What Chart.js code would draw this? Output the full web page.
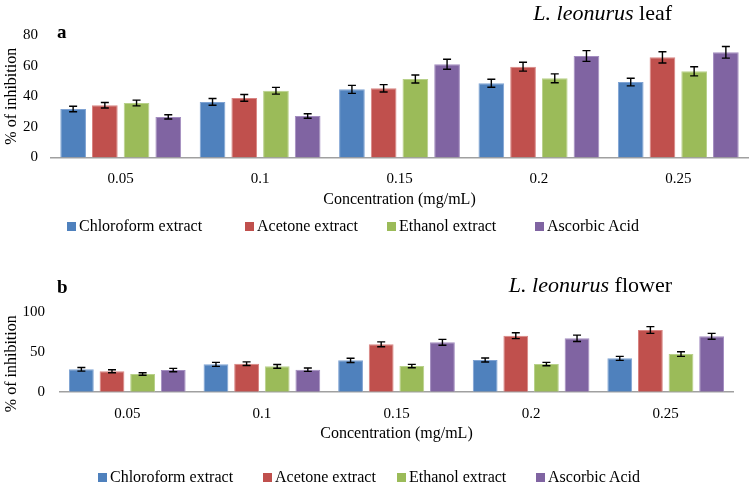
<!DOCTYPE html>
<html>
<head>
<meta charset="utf-8">
<script src="https://cdn.jsdelivr.net/npm/chart.js@4.4.1/dist/chart.umd.min.js"></script>
<style>
  html, body { margin: 0; padding: 0; background: #fff; }
  #wrap { position: relative; width: 749px; height: 487px; overflow: hidden;
          font-family: 'Liberation Serif', 'Times New Roman', serif; color: #000; }
  canvas { position: absolute; left: 0; }
  .tag { position: absolute; font-weight: bold; font-size: 19px; line-height: 1; }
  .title { position: absolute; font-size: 22px; line-height: 1; white-space: nowrap; }
  .item { position: absolute; display: flex; align-items: center; font-size: 16px;
          line-height: 18px; white-space: nowrap; }
  .item .box { width: 9px; height: 9px; margin-right: 3px; }
</style>
</head>
<body>
<div id="wrap">
  <canvas id="leafChart" width="749" height="240" style="top:0"></canvas>
  <canvas id="flowerChart" width="749" height="247" style="top:240px"></canvas>
  <div class="tag" style="left:57px; top:22px">a</div>
  <div class="tag" style="left:57px; top:277px">b</div>
  <div class="title" style="right:77px; top:2px"><i>L. leonurus</i> leaf</div>
  <div class="title" style="right:77px; top:274px"><i>L. leonurus</i> flower</div>
</div>
<script>
const concentrations = ['0.05', '0.1', '0.15', '0.2', '0.25'];
const seriesNames = ['Chloroform extract', 'Acetone extract', 'Ethanol extract', 'Ascorbic Acid'];
const seriesColors = ['#4F81BD', '#C0504D', '#9BBB59', '#8064A2'];
const seriesEdges = ['#7FA3D3', '#D98583', '#B8D18A', '#A38DC0'];

// panel a - leaf
const chloroformLeaf = [31.7, 36.3, 44.5, 48.5, 49.3];
const acetoneLeaf = [34.1, 38.9, 45.2, 59.3, 65.4];
const ethanolLeaf = [35.6, 43.6, 51.3, 51.7, 56.3];
const ascorbicLeaf = [26.5, 27.1, 60.9, 66.3, 68.7];
const chloroformLeafErr = [1.8, 2.2, 2.6, 2.6, 2.5];
const acetoneLeafErr = [1.8, 2.2, 2.4, 2.9, 3.7];
const ethanolLeafErr = [1.9, 2.2, 2.6, 2.9, 3.0];
const ascorbicLeafErr = [1.4, 1.5, 3.3, 3.5, 3.8];

// panel b - flower
const chloroformFlower = [28.0, 34.2, 39.2, 39.6, 41.7];
const acetoneFlower = [25.5, 35.0, 59.2, 70.0, 77.1];
const ethanolFlower = [22.1, 31.7, 32.1, 34.6, 47.1];
const ascorbicFlower = [27.1, 27.5, 61.7, 66.7, 69.2];
const chloroformFlowerErr = [2.3, 2.5, 2.7, 2.5, 2.5];
const acetoneFlowerErr = [1.9, 2.3, 3.1, 3.7, 4.2];
const ethanolFlowerErr = [1.5, 2.3, 2.1, 2.1, 2.9];
const ascorbicFlowerErr = [2.1, 2.1, 3.7, 4.0, 3.7];

const leafTicks = [0, 20, 40, 60, 80];
const flowerTicks = [0, 50, 100];

const FONT = "'Liberation Serif', 'Times New Roman', serif";

const errorBars = {
    id: 'errorBars',
    afterDatasetsDraw(chart) {
        const ctx = chart.ctx;
        const y = chart.scales.y;
        ctx.save();
        ctx.strokeStyle = '#000';
        ctx.lineWidth = 1.4;
        chart.data.datasets.forEach((ds, i) => {
            chart.getDatasetMeta(i).data.forEach((bar, j) => {
                const v = ds.data[j], e = ds.errors[j];
                const top = y.getPixelForValue(v + e);
                const bot = y.getPixelForValue(v - e);
                const x = bar.x;
                ctx.beginPath();
                ctx.moveTo(x, top); ctx.lineTo(x, bot);
                ctx.moveTo(x - 4, top); ctx.lineTo(x + 4, top);
                ctx.moveTo(x - 4, bot); ctx.lineTo(x + 4, bot);
                ctx.stroke();
            });
        });
        ctx.restore();
    }
};

function makeChart(id, values, errors, ticks, cfg) {
    const ctx = document.getElementById(id).getContext('2d');
    return new Chart(ctx, {
        type: 'bar',
        data: {
            labels: concentrations,
            datasets: values.map((vals, i) => ({
                label: seriesNames[i],
                data: vals,
                errors: errors[i],
                backgroundColor: seriesColors[i],
                borderColor: seriesEdges[i],
                borderWidth: 1,
                categoryPercentage: 0.91,
                barPercentage: 0.81
            }))
        },
        options: {
            responsive: false,
            animation: false,
            layout: { padding: cfg.padding },
            plugins: {
                legend: { display: false },
                tooltip: { enabled: false }
            },
            scales: {
                x: {
                    grid: { display: false, drawTicks: false },
                    border: { color: '#a0a0a0', width: 1.5 },
                    ticks: { color: '#000', font: { family: FONT, size: 15 }, padding: 13 },
                    title: {
                        display: true,
                        text: 'Concentration (mg/mL)',
                        color: '#000',
                        font: { family: FONT, size: 16 },
                        padding: { top: 0, bottom: 3 }
                    },
                    afterFit: s => { s.height = 55; }
                },
                y: {
                    min: 0,
                    max: ticks[ticks.length - 1],
                    afterBuildTicks: s => { s.ticks = ticks.map(v => ({ value: v })); },
                    grid: { display: false, drawTicks: false },
                    border: { display: false },
                    ticks: { color: '#000', font: { family: FONT, size: 15 }, padding: cfg.tickPad },
                    title: {
                        display: true,
                        // trailing spaces nudge the centred title down like the original
                        text: '% of inhibition' + cfg.titlePad,
                        color: '#000',
                        font: { family: FONT, size: 16 },
                        padding: { top: 2, bottom: 0 }
                    },
                    afterFit: s => { s.width = cfg.yWidth; }
                }
            }
        },
        plugins: [errorBars]
    });
}

makeChart('leafChart',
    [chloroformLeaf, acetoneLeaf, ethanolLeaf, ascorbicLeaf],
    [chloroformLeafErr, acetoneLeafErr, ethanolLeafErr, ascorbicLeafErr],
    leafTicks,
    { padding: { left: 0, right: 1, top: 35, bottom: 27.5 }, yWidth: 51, tickPad: 13, titlePad: '' });

makeChart('flowerChart',
    [chloroformFlower, acetoneFlower, ethanolFlower, ascorbicFlower],
    [chloroformFlowerErr, acetoneFlowerErr, ethanolFlowerErr, ascorbicFlowerErr],
    flowerTicks,
    { padding: { left: 0, right: 16, top: 71.7, bottom: 40.3 }, yWidth: 60, tickPad: 15, titlePad: '\u2002\u2002\u2002' });

// legends
function addLegend(lefts, centerY) {
    const wrap = document.getElementById('wrap');
    seriesNames.forEach((name, i) => {
        const item = document.createElement('div');
        item.className = 'item';
        item.style.left = lefts[i] + 'px';
        item.style.top = (centerY - 9) + 'px';
        const box = document.createElement('span');
        box.className = 'box';
        box.style.background = seriesColors[i];
        item.appendChild(box);
        item.appendChild(document.createTextNode(name));
        wrap.appendChild(item);
    });
}
addLegend([67, 245, 387, 535], 226);
addLegend([98, 263, 397, 536], 477);
</script>
</body>
</html>
